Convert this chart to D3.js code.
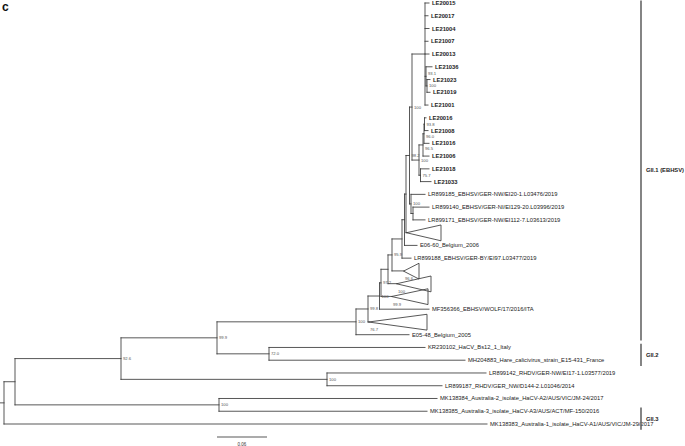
<!DOCTYPE html>
<html><head><meta charset="utf-8">
<script src="https://cdn.jsdelivr.net/npm/d3@7"></script>
<style>body{margin:0;background:#fff}svg{display:block}text{font-family:"Liberation Sans",Arial,sans-serif}</style>
</head><body><svg id="chart" width="685" height="446"></svg>
<script>
// ---- data ----
const tipOrder = [
  "LE20015","LE20017","LE21004","LE21007","LE20013","LE21036","LE21023","LE21019","LE21001",
  "LE20016","LE21008","LE21016","LE21006","LE21018","LE21033",
  "LR899185_EBHSV/GER-NW/EI20-1.L03476/2019",
  "LR899140_EBHSV/GER-NI/EI129-20.L03996/2019",
  "LR899171_EBHSV/GER-NW/EI112-7.L03613/2019",
  "collapsed1",
  "E06-60_Belgium_2006",
  "LR899188_EBHSV/GER-BY/EI97.L03477/2019",
  "collapsed2","collapsed3","collapsed4",
  "MF356366_EBHSV/WOLF/17/2016/ITA",
  "collapsed5",
  "E05-48_Belgium_2005",
  "KR230102_HaCV_Bs12_1_Italy",
  "MH204883_Hare_calicivirus_strain_E15-431_France",
  "LR899142_RHDV/GER-NW/EI17-1.L03577/2019",
  "LR899187_RHDV/GER_NW/D144-2.L01046/2014",
  "MK138384_Australia-2_isolate_HaCV-A2/AUS/VIC/JM-24/2017",
  "MK138385_Australia-3_isolate_HaCV-A3/AUS/ACT/MF-150/2016",
  "MK138383_Australia-1_isolate_HaCV-A1/AUS/VIC/JM-29/2017"
];
const boldTips = ["LE20015","LE20017","LE21004","LE21007","LE20013","LE21036","LE21023","LE21019","LE21001",
  "LE20016","LE21008","LE21016","LE21006","LE21018","LE21033"];

// [parent, child, branch length (substitutions/site)]
const edges = [
  ["", "root", 0],
  ["root","A",0.0132],
  ["A","B",0.1272],
  ["B","G",0.1152],
  ["G","H",0.1668],
  ["H","K",0.0144],
  ["K","U",0.0138],
  ["U","V",0.0018],
  ["V","W",0.0084],
  ["W","X5",0.0048],
  ["X5","X4",0.012],
  ["X4","X3",0.003],
  ["X3","X2",0.0018],
  ["X2","X1",0.0042],
  ["X1","P",0.003],
  ["P","Q",0.0156],
  ["Q","LE20015",0.0048],["Q","LE20017",0.0036],["Q","LE21004",0.0048],["Q","LE21007",0.0036],["Q","LE20013",0.0048],
  ["Q","Q2",0.0012],["Q2","LE21036",0.0072],["Q2","Q3",0.0012],["Q3","LE21023",0.0036],["Q3","LE21019",0.0036],
  ["Q","LE21001",0.0036],
  ["P","RR",0.0084],
  ["RR","R",0.0048],["R","R4",0.0012],["R4","R5",0.0006],
  ["R5","LE20016",0.0018],["R5","LE21008",0.0042],["R4","LE21016",0.006],["R","LE21006",0.0072],
  ["RR","R6",0.0018],["R6","LE21018",0.0102],["R6","LE21033",0.0126],
  ["X1","S0",0.0018],
  ["S0","LR899185_EBHSV/GER-NW/EI20-1.L03476/2019",0.0168],
  ["S0","R8",0.0024],
  ["R8","LR899140_EBHSV/GER-NI/EI129-20.L03996/2019",0.0192],
  ["R8","LR899171_EBHSV/GER-NW/EI112-7.L03613/2019",0.0144],
  ["X2","collapsed1",0.0012],
  ["X3","E06-60_Belgium_2006",0.015],
  ["X4","LR899188_EBHSV/GER-BY/EI97.L03477/2019",0.0108],
  ["X5","collapsed2",0.0144],
  ["W","collapsed3",0.0108],
  ["V","collapsed4",0.0132],
  ["U","MF356366_EBHSV/WOLF/17/2016/ITA",0.0594],
  ["K","collapsed5",0.0012],
  ["H","E05-48_Belgium_2005",0.0636],
  ["G","I",0.0624],
  ["I","KR230102_HaCV_Bs12_1_Italy",0.1872],
  ["I","MH204883_Hare_calicivirus_strain_E15-431_France",0.2352],
  ["B","F",0.2472],
  ["F","LR899142_RHDV/GER-NW/EI17-1.L03577/2019",0.1908],
  ["F","LR899187_RHDV/GER_NW/D144-2.L01046/2014",0.138],
  ["A","C",0.2448],
  ["C","MK138384_Australia-2_isolate_HaCV-A2/AUS/VIC/JM-24/2017",0.2616],
  ["C","MK138385_Australia-3_isolate_HaCV-A3/AUS/ACT/MF-150/2016",0.2496],
  ["root","MK138383_Australia-1_isolate_HaCV-A1/AUS/VIC/JM-29/2017",0.5796]
];

const collapsedClades = ["collapsed1","collapsed2","collapsed3","collapsed4","collapsed5"];
const collapsedDepths = [0.0408, 0.018, 0.0408, 0.0432, 0.0696];

const supportNodes  = ["B","G","I","F","C","H","K","U","V","X5","collapsed2","collapsed3","collapsed4","collapsed5",
                       "X1","S0","P","RR","R6","R","R4","R5","Q2","Q3"];
const supportValues = ["92.6","99.9","72.0","100","100","100","99.8","100","97.2","95.9","96.6","100","99.9","76.7",
                       "98.2","100","100","100","75.7","96.5","96.0","93.8","93.1","100"];

const cladeNames = ["GII.1 (EBHSV)","GII.2","GII.3"];
const cladeFirstTip = ["LE20015","KR230102_HaCV_Bs12_1_Italy","MK138385_Australia-3_isolate_HaCV-A3/AUS/ACT/MF-150/2016"];
const cladeLastTip  = ["E05-48_Belgium_2005","MH204883_Hare_calicivirus_strain_E15-431_France","MK138383_Australia-1_isolate_HaCV-A1/AUS/VIC/JM-29/2017"];

const scaleBarValue = 0.06;
const panelLetter = "c";

// ---- layout ----
const svg = d3.select("#chart");
const x = d3.scaleLinear().domain([0, scaleBarValue]).range([4, 54]);
const y = d3.scaleLinear().domain([0, tipOrder.length - 1]).range([3, 424]);
const step = y(1) - y(0);

const root = d3.stratify().id(d => d[1]).parentId(d => d[0])(edges);
root.eachBefore(n => { n.dist = n.parent ? n.parent.dist + n.data[2] : 0; });
root.eachAfter(n => {
  if (!n.children) { n.py = y(tipOrder.indexOf(n.id)); }
  else {
    n.children.sort((a, b) => a.py - b.py);
    n.py = (n.children[0].py + n.children[n.children.length - 1].py) / 2;
  }
});

const lineColor = "#3a3a3a";
const g = svg.append("g").attr("fill", "none").attr("stroke", lineColor).attr("stroke-width", 0.85).attr("stroke-linecap", "square");

// root stub
g.append("line").attr("x1", x(-0.0048)).attr("x2", x(0)).attr("y1", root.py).attr("y2", root.py);

root.descendants().forEach(n => {
  if (n.parent) {
    g.append("line").attr("x1", x(n.parent.dist)).attr("x2", x(n.dist)).attr("y1", n.py).attr("y2", n.py);
  }
  if (n.children) {
    g.append("line").attr("x1", x(n.dist)).attr("x2", x(n.dist))
      .attr("y1", n.children[0].py).attr("y2", n.children[n.children.length - 1].py);
  }
});

// collapsed clades (triangles)
collapsedClades.forEach((id, i) => {
  const n = root.find(d => d.id === id);
  const ax = x(n.dist), ay = n.py, rx = x(n.dist + collapsedDepths[i]);
  const h = step * 0.6;
  g.append("path").attr("d", `M${ax},${ay}L${rx},${ay - h}L${rx},${ay + h}Z`);
});

// tip labels
const tl = svg.append("g").attr("fill", "#222").attr("font-size", 5.8);
const boxes = [];
root.leaves().filter(n => !collapsedClades.includes(n.id)).forEach(n => {
  const t = tl.append("text").attr("x", x(n.dist) + 3).attr("y", n.py + 2)
    .attr("font-weight", boldTips.includes(n.id) ? "bold" : "normal")
    .text(n.id);
  const b = t.node().getBBox();
  boxes.push({x0: b.x, x1: b.x + b.width, y0: b.y, y1: b.y + b.height});
});

// support values (nudged vertically if they would collide with a tip label)
const sl = svg.append("g").attr("fill", "#555").attr("font-size", 4.2);
const hit = (a, b) => a.x0 < b.x1 && a.x1 > b.x0 && a.y0 < b.y1 && a.y1 > b.y0;
supportNodes.forEach((id, i) => {
  const n = root.find(d => d.id === id);
  const isC = collapsedClades.includes(id);
  const t = sl.append("text").attr("x", x(n.dist) + (isC ? 1 : 2)).text(supportValues[i]);
  const baseY = n.py + (isC ? 9.5 : 1.5);
  const tries = [0, -0.5, 0.5, -1, 1, -1.5, 1.5, -2, 2, -2.5, 2.5, -3, 3, -3.5, 3.5, -4, 4];
  for (const dy of tries) {
    t.attr("y", baseY + dy);
    const b = t.node().getBBox();
    const bb = {x0: b.x, x1: b.x + b.width, y0: b.y, y1: b.y + b.height};
    if (!boxes.some(o => hit(o, bb))) { boxes.push(bb); break; }
    if (dy === 4) { t.attr("y", baseY); }
  }
});

// clade bars
const barX = 641;
cladeNames.forEach((name, i) => {
  const y1 = Math.max(0.5, y(tipOrder.indexOf(cladeFirstTip[i])) - step * 0.3);
  const y2 = y(tipOrder.indexOf(cladeLastTip[i])) + step * 0.45;
  svg.append("line").attr("x1", barX).attr("x2", barX).attr("y1", y1).attr("y2", y2)
    .attr("stroke", "#666").attr("stroke-width", 1.6);
  svg.append("text").attr("x", barX + 5).attr("y", (y1 + y2) / 2 + 2).attr("font-size", 5.8)
    .attr("font-weight", "bold").attr("fill", "#222").text(name);
});

// scale bar
const sbLeft = 217, sbY = 437;
svg.append("line").attr("x1", sbLeft).attr("x2", sbLeft + x(scaleBarValue) - x(0)).attr("y1", sbY).attr("y2", sbY)
  .attr("stroke", lineColor).attr("stroke-width", 0.85);
svg.append("text").attr("x", sbLeft + (x(scaleBarValue) - x(0)) / 2).attr("y", 445.5).attr("text-anchor", "middle")
  .attr("font-size", 4.5).attr("fill", "#333").text(scaleBarValue.toFixed(2));

// panel letter
svg.append("text").attr("x", 2).attr("y", 11).attr("font-size", 12).attr("font-weight", "bold").attr("fill", "#111").text(panelLetter);
</script>
</body></html>
